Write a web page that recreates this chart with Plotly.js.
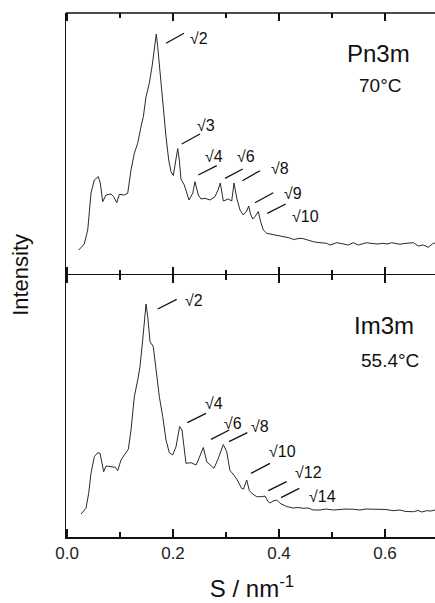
<!DOCTYPE html>
<html>
<head>
<meta charset="utf-8">
<script src="https://cdn.plot.ly/plotly-3.0.1.min.js"></script>
<style>
html,body{margin:0;padding:0;background:#fff;overflow:hidden;}
#chart{width:440px;height:603px;}
</style>
</head>
<body>
<div id="chart"></div>
<script>
// Top panel: Pn3m, 70°C
const sTop = [0.0221,0.0326,0.0391,0.0453,0.0515,0.0591,0.0628,0.0674,0.0736,0.0830,0.0881,0.0938,0.0987,0.1081,0.1145,0.1208,0.1270,0.1334,0.1396,0.1440,0.1491,0.1553,0.1604,0.1647,0.1685,0.1711,0.1760,0.1817,0.1868,0.1919,0.1962,0.2006,0.2043,0.2089,0.2119,0.2151,0.2213,0.2258,0.2302,0.2372,0.2415,0.2477,0.2528,0.2604,0.2698,0.2792,0.2849,0.2892,0.2925,0.2949,0.3043,0.3108,0.3151,0.3202,0.3264,0.3326,0.3391,0.3428,0.3462,0.3504,0.3547,0.3609,0.3655,0.3704,0.3768,0.3868,0.3962,0.4038,0.4145,0.4208,0.4270,0.4340,0.4396,0.4458,0.4523,0.4585,0.4647,0.4736,0.4836,0.4900,0.4962,0.5089,0.5170,0.5308,0.5402,0.5496,0.5566,0.5655,0.5755,0.5868,0.5962,0.6038,0.6126,0.6208,0.6283,0.6358,0.6440,0.6534,0.6628,0.6723,0.6817,0.6911,0.7000];
const iTop = [25,31,45,82,95,98.3,92,73.3,80,81,78.3,72.3,80.7,80,81.7,105,121.7,131.7,148.3,158.3,178.3,191.7,208.3,225,241,228.3,198.3,168.3,138.3,115,103.3,99.5,111.7,126.5,115,95.7,90,81.7,75,81.7,93.3,80,76,76.7,75,78.3,85,92,81.7,74,76,74,92,77,65,60,64,69,61,56,58.3,63.5,53,45,41.7,40.5,40,39,37.5,37,35.5,36,36.7,36.3,35,34,33.3,32.5,32.3,31.7,30,32.3,31.5,30,32.3,30,31,32.3,31.5,31,31.7,31,32.3,31.5,30.7,31.5,31.7,32.3,29,30,27.7,31.7,32];

// Bottom panel: Im3m, 55.4°C
const sBot = [0.0264,0.0358,0.0409,0.0453,0.0515,0.0579,0.0623,0.0660,0.0692,0.0736,0.0830,0.0911,0.0957,0.1019,0.1081,0.1157,0.1208,0.1270,0.1334,0.1377,0.1428,0.1458,0.1491,0.1523,0.1566,0.1628,0.1679,0.1742,0.1806,0.1868,0.1930,0.1994,0.2057,0.2125,0.2170,0.2213,0.2245,0.2340,0.2434,0.2477,0.2572,0.2636,0.2698,0.2774,0.2855,0.2949,0.3013,0.3075,0.3132,0.3202,0.3296,0.3330,0.3391,0.3440,0.3485,0.3579,0.3674,0.3736,0.3792,0.3830,0.3887,0.3957,0.4019,0.4145,0.4270,0.4358,0.4458,0.4547,0.4647,0.4774,0.4887,0.5025,0.5151,0.5264,0.5402,0.5528,0.5642,0.5779,0.5906,0.6019,0.6157,0.6283,0.6396,0.6534,0.6623,0.6698,0.6787,0.6868,0.6943,0.7000];
const iBot = [23,28.7,43.7,63.7,80.3,84.3,83.7,73.7,65.3,71,70.3,69.7,66.3,77,82,87.7,107,140.3,157,170.3,197,217,233,220.3,195.3,190.3,167,140.3,120.3,97,84.3,82,90.3,110.5,107,87,73.7,74.3,72,77,89.5,75.3,72,68.7,78.7,92.5,85.3,66.5,63,58,48.5,48,57,46.5,43.7,40.3,40.3,41,35.5,34,36,37,33.7,30.5,29,29.5,28.7,29,27,27,28,27,27.5,28,27.7,27,28,27.7,27,27.5,26.3,27,25.5,25.3,26.5,25,26.3,26,27,26.5];

// Peak index labels
const topLabels = ["√2","√3","√4","√6","√8","√9","√10"];
const topLabelX = [0.2283,0.2415,0.2566,0.3170,0.3811,0.4057,0.4208];
const topLabelY = [237,150,119,118.3,106.7,81.7,59];
const topLine = [[0.1868,231.7,0.2208,241.7],[0.2164,131,0.2509,141],[0.2477,100,0.2825,109.3],[0.2981,96.7,0.3315,106],[0.3308,94.3,0.3642,104.3],[0.3547,72.3,0.3892,82.3],[0.3779,61.7,0.4126,71]];

const botLabels = ["√2","√4","√6","√8","√10","√12","√14"];
const botLabelX = [0.2189,0.2566,0.2925,0.3434,0.3774,0.4264,0.4528];
const botLabelY = [236.3,133.7,113.7,110.3,86,64.7,40.3];
const botLine = [[0.1711,228,0.2070,237.7],[0.2270,114.3,0.2623,123.7],[0.2717,97.7,0.3062,107],[0.3057,95.3,0.3402,104.3],[0.3472,63.7,0.3830,73.7],[0.3798,46.3,0.4145,55.3],[0.4038,39.3,0.4383,48.7]];

const phaseText = [["Pn3m","70°C"],["Im3m","55.4°C"]];

const lineStyle = {color:'#2a2a2a', width:1};
const traces = [
  {x:sBot, y:iBot, type:'scatter', mode:'lines', line:lineStyle, xaxis:'x', yaxis:'y', hoverinfo:'skip'},
  {x:sTop, y:iTop, type:'scatter', mode:'lines', line:lineStyle, xaxis:'x2', yaxis:'y2', hoverinfo:'skip'}
];

const font = 'Liberation Sans, Arial, sans-serif';
const shapes = [];
const annotations = [];
function addLabels(labels, lx, ly, lines, xr, yr){
  labels.forEach((t,i)=>{
    annotations.push({text:t, x:lx[i], y:ly[i], xref:xr, yref:yr, xanchor:'left', yanchor:'middle', showarrow:false, font:{family:font, size:16, color:'#111'}});
    const L = lines[i];
    shapes.push({type:'line', xref:xr, yref:yr, x0:L[0], y0:L[1], x1:L[2], y1:L[3], line:{color:'#111', width:1.3}});
  });
}
addLabels(topLabels, topLabelX, topLabelY, topLine, 'x2', 'y2');
addLabels(botLabels, botLabelX, botLabelY, botLine, 'x', 'y');

// top border of the upper frame
shapes.push({type:'line', xref:'paper', yref:'paper', x0:0, x1:1, y0:1, y1:1, line:{color:'#111', width:1.5}});

annotations.push({text:phaseText[0][0], x:0.5868, y:222, xref:'x2', yref:'y2', showarrow:false, font:{family:font, size:24, color:'#111'}});
annotations.push({text:phaseText[0][1], x:0.5906, y:190, xref:'x2', yref:'y2', showarrow:false, font:{family:font, size:19, color:'#111'}});
annotations.push({text:phaseText[1][0], x:0.5981, y:212, xref:'x', yref:'y', showarrow:false, font:{family:font, size:24, color:'#111'}});
annotations.push({text:phaseText[1][1], x:0.6094, y:177, xref:'x', yref:'y', showarrow:false, font:{family:font, size:19, color:'#111'}});
annotations.push({text:'Intensity', x:-0.124, y:0.5, xref:'paper', yref:'paper', xanchor:'center', yanchor:'middle', textangle:-90, showarrow:false, font:{family:font, size:22, color:'#111'}});

const xBase = {
  range:[-0.0019,0.7], showline:true, linecolor:'#111', linewidth:1.5, mirror:'ticks',
  ticks:'inside', ticklen:8, tickwidth:1.3, tickcolor:'#111', dtick:0.2, tick0:0,
  minor:{dtick:0.1, ticklen:5, tickwidth:1.1, tickcolor:'#111', ticks:'inside'},
  showgrid:false, zeroline:false, fixedrange:true
};
const yBase = {range:[0,262], showline:true, linecolor:'#111', linewidth:1.5, mirror:true, ticks:'', showticklabels:false, showgrid:false, zeroline:false};

const layout = {
  width:440, height:603,
  margin:{l:66, r:2, t:13, b:66},
  paper_bgcolor:'#fff', plot_bgcolor:'#fff',
  showlegend:false,
  font:{family:font, color:'#111'},
  xaxis:Object.assign({}, xBase, {anchor:'y', tickformat:'.1f', tickfont:{family:font, size:17, color:'#222'},
    title:{text:'S / nm<sup>-1</sup>', font:{family:font, size:24, color:'#111'}, standoff:18}}),
  xaxis2:Object.assign({}, xBase, {anchor:'y2', matches:'x', showticklabels:false, showline:false}),
  yaxis:Object.assign({}, yBase, {domain:[0,0.5], anchor:'x'}),
  yaxis2:Object.assign({}, yBase, {domain:[0.5,1], anchor:'x2'}),
  shapes:shapes,
  annotations:annotations
};

Plotly.newPlot('chart', traces, layout, {staticPlot:true, displayModeBar:false});
</script>
</body>
</html>
